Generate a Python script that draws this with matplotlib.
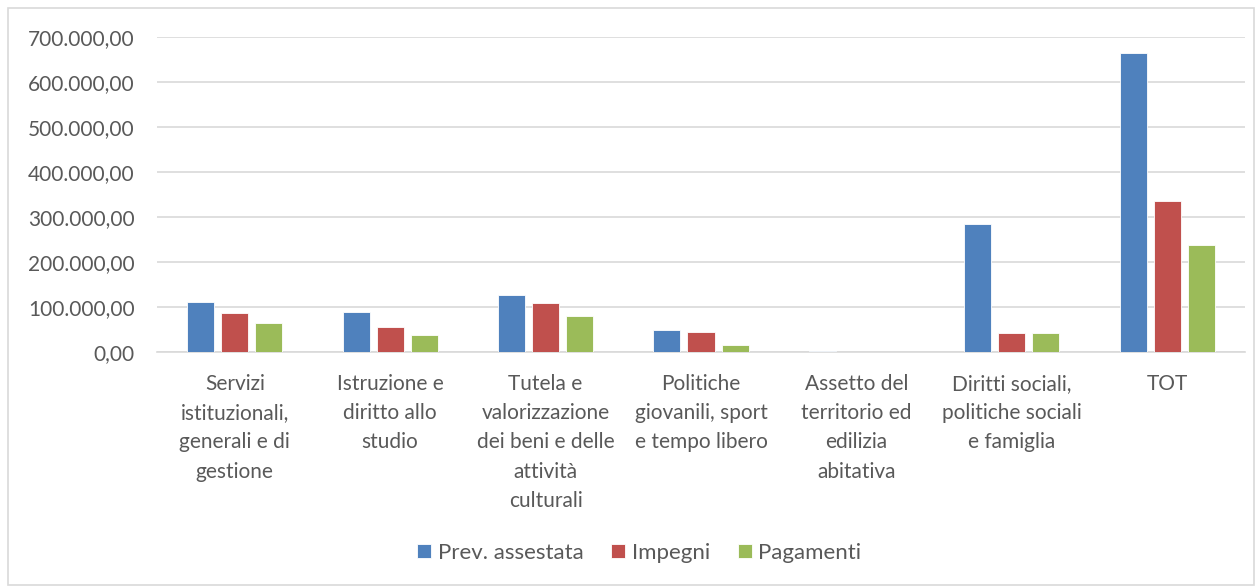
import numpy as np
import matplotlib
matplotlib.use("Agg")
import matplotlib.pyplot as plt
import matplotlib.patches as mpatches
from matplotlib.ticker import FuncFormatter

# values (euro)
categories = [
    "Servizi\nistituzionali,\ngenerali e di\ngestione",
    "Istruzione e\ndiritto allo\nstudio",
    "Tutela e\nvalorizzazione\ndei beni e delle\nattività\nculturali",
    "Politiche\ngiovanili, sport\ne tempo libero",
    "Assetto del\nterritorio ed\nedilizia\nabitativa",
    "Diritti sociali,\npolitiche sociali\ne famiglia",
    "TOT",
]
prev_assestata = [111000, 88000, 127000, 50000, 2500, 285000, 664000]
impegni = [87000, 55500, 109000, 43500, 0, 41500, 336000]
pagamenti = [64000, 37000, 79000, 15500, 0, 41500, 238000]

series = [("Prev. assestata", prev_assestata, "#4F81BD"),
          ("Impegni", impegni, "#C0504D"),
          ("Pagamenti", pagamenti, "#9BBB59")]

TXT = "#595959"
GRID = "#D9D9D9"
plt.rcParams["font.family"] = ["Lato", "DejaVu Sans"]


def it_fmt(v, _):
    s = f"{v:,.2f}"
    return s.replace(",", "X").replace(".", ",").replace("X", ".")


fig = plt.figure(figsize=(12.59, 5.88), dpi=100)
ax = fig.add_axes([157 / 1259, 236 / 588, 1088 / 1259, 315 / 588])

x = np.arange(len(categories))
w, off = 0.174, 0.219
for i, (name, vals, col) in enumerate(series):
    ax.bar(x + (i - 1) * off, vals, w, color=col, edgecolor="white",
           linewidth=0.6, label=name, zorder=3)

ax.set_xlim(-0.5, len(categories) - 0.5)
ax.set_ylim(0, 700000)
ax.set_yticks(np.arange(0, 700001, 100000))
ax.yaxis.set_major_formatter(FuncFormatter(it_fmt))
ax.grid(axis="y", color=GRID, linewidth=1.2, zorder=0)
for s in ["top", "right", "left"]:
    ax.spines[s].set_visible(False)
ax.spines["bottom"].set_color(GRID)
ax.spines["bottom"].set_linewidth(1.2)
ax.tick_params(axis="both", length=0, colors=TXT, labelsize=15)
ax.tick_params(axis="y", pad=16)
ax.tick_params(axis="x", pad=16)
ax.set_xticks(x)
ax.set_xticklabels(categories, linespacing=1.57, va="top")

fig.legend(*ax.get_legend_handles_labels(), loc="center",
           bbox_to_anchor=(0.5 + 10 / 1259, 1 - 553 / 588), ncol=3, frameon=False,
           fontsize=16, labelcolor=TXT, handlelength=0.62, handleheight=0.62,
           handletextpad=0.3, columnspacing=1.25)

fig.patches.append(mpatches.Rectangle((8 / 1259, 3 / 588), 1246 / 1259, 577 / 588,
                                      transform=fig.transFigure, fill=False,
                                      edgecolor=GRID, linewidth=1.2))

fig.savefig("out.png", dpi=100)
